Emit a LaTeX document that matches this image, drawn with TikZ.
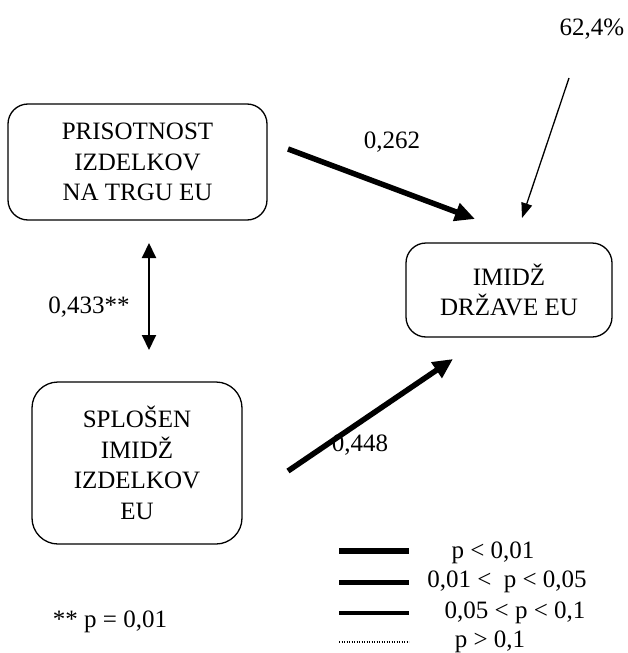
\documentclass[tikz,border=0pt]{standalone}
\usepackage{fontspec}
\setmainfont{Liberation Serif}
\usetikzlibrary{arrows.meta}
\begin{document}
\begin{tikzpicture}[x=1pt,y=-1pt,
  every node/.style={font=\fontsize{25}{30.5}\selectfont, inner sep=0pt},
  factor/.style={draw, line width=1.3pt, rounded corners=20pt, align=center},
  strong/.style={line width=5.5pt, -{Triangle[length=20pt,width=18pt]}},
  corr/.style={line width=2pt, {Triangle[length=15pt,width=14pt]}-{Triangle[length=15pt,width=14pt]}},
  resid/.style={line width=1.3pt, -{Triangle[length=15pt,width=11pt]}},
  lab/.style={align=center}
]
\useasboundingbox (0,0) rectangle (628,653);

% constructs
\node[factor, minimum width=259pt, minimum height=116pt] (pris) at (137.5,162)
  {PRISOTNOST\\IZDELKOV\\NA TRGU EU};
\node[factor, rounded corners=26pt, minimum width=210pt, minimum height=162pt] (splo) at (137,463)
  {SPLOŠEN\\IMIDŽ\\IZDELKOV\\EU};
\node[factor, minimum width=206pt, minimum height=94pt] (imid) at (509,290)
  {IMIDŽ\\DRŽAVE EU};

% path end points
\coordinate (p1s) at (288,149);
\coordinate (p1e) at (475,219);
\coordinate (p2s) at (288,471);
\coordinate (p2e) at (453,359);
\coordinate (ct) at (149,243);
\coordinate (cb) at (149,350);
\coordinate (rs) at (569,78);
\coordinate (re) at (522,218);

\draw[strong] (p1s) -- (p1e);
\draw[strong] (p2s) -- (p2e);
\draw[corr] (ct) -- (cb);
\draw[resid] (rs) -- (re);

% coefficients
\node (c262) at (392,142) {0,262};
\node (c448) at (360,445) {0,448};
\node (c433) at (89,307) {0,433**};
\node (r624) at (592,29) {62,4\%};
\node (note) at (110,622) {** p = 0,01};

% legend
\coordinate (l1a) at (339,551); \coordinate (l1b) at (409,551);
\coordinate (l2a) at (339,582); \coordinate (l2b) at (409,582);
\coordinate (l3a) at (339,613); \coordinate (l3b) at (409,613);
\coordinate (l4a) at (339,642); \coordinate (l4b) at (409,642);
\draw[line width=6.5pt] (l1a) -- (l1b);
\draw[line width=5pt] (l2a) -- (l2b);
\draw[line width=3.5pt] (l3a) -- (l3b);
\draw[line width=1.2pt, dash pattern=on 1.2pt off 1.3pt] (l4a) -- (l4b);
\node (t1) at (493,553) {p < 0,01};
\node (t2) at (507,582) {0,01 <\ \ p < 0,05};
\node (t3) at (515,613) {0,05 < p < 0,1};
\node (t4) at (490,642) {p > 0,1};
\end{tikzpicture}
\end{document}
